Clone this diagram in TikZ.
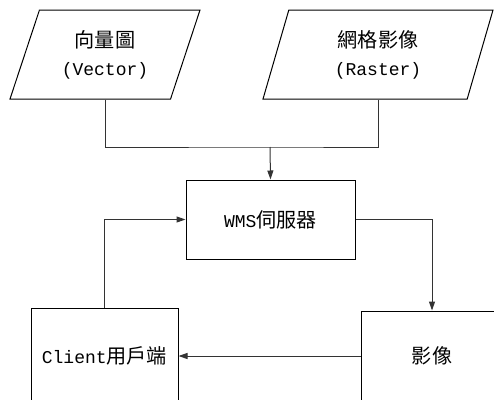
\documentclass[tikz,border=0pt]{standalone}
\usepackage{fontspec}
\setmainfont{Liberation Mono}
\newfontfamily\cjk[Scale=1.12]{Noto Sans CJK TC}
\usetikzlibrary{shapes.geometric,arrows.meta}

\begin{document}
\begin{tikzpicture}[x=1pt,y=-1pt,
    every node/.style={font=\fontsize{18}{28}\selectfont},
    para/.style={trapezium,draw,line width=1pt,trapezium stretches body=true,
      minimum height=89pt,inner xsep=0pt},
    box/.style={rectangle,draw,line width=1pt,align=center},
    conn/.style={draw=black!80,line width=1pt},
    arr/.style={conn,-{Triangle[length=9pt,width=6pt]}}]

  \useasboundingbox (0,0) rectangle (494,399);
  \clip (0,0) rectangle (494,399);

  % input data
  \node[para,trapezium left angle=62,trapezium right angle=118,minimum width=190pt,
    align=center] (vec) at (105,54.5) {{\cjk 向量圖}\\(Vector)};
  \node[para,trapezium left angle=65,trapezium right angle=115,minimum width=230pt,
    align=center] (ras) at (378,54.5) {{\cjk 網格影像}\\(Raster)};

  % server and client
  \node[box,minimum width=169pt,minimum height=79pt] (wms) at (270.5,219.5) {WMS{\cjk 伺服器}};
  \node[box,minimum width=147pt,minimum height=96pt] (client) at (104.5,356) {Client{\cjk 用戶端}};
  \node[box,minimum width=142pt,minimum height=90pt] (img) at (432,356) {{\cjk 影像}};

  \coordinate (join) at (270,147);

  \path[conn] (vec.south) |- (join) -| (ras.south);
  \path[arr] (join) -- (wms.north);
  \path[arr] (wms.east) -| (img.north);
  \path[arr] (img.west) -- (client.east);
  \path[arr] (client.north) |- (wms.west);

\end{tikzpicture}
\end{document}
